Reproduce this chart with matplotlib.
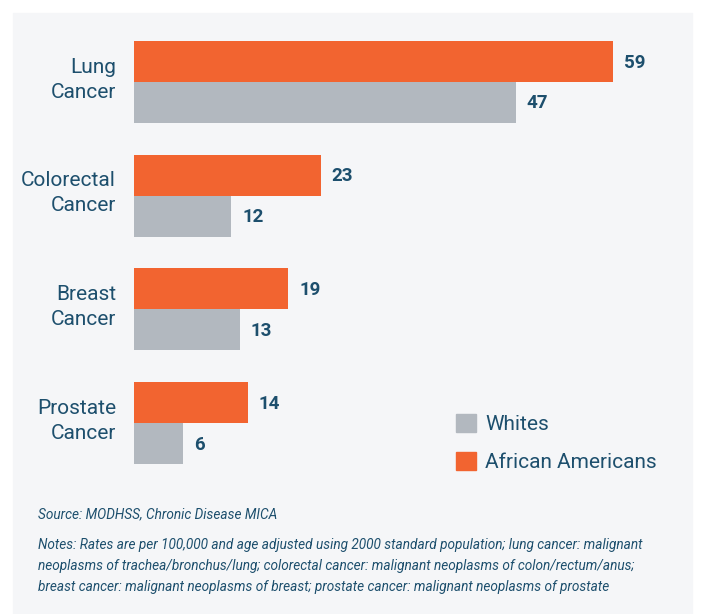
import numpy as np
import matplotlib
matplotlib.use("Agg")
import matplotlib.pyplot as plt
from matplotlib.patches import Rectangle

categories = ["Lung\nCancer", "Colorectal\nCancer", "Breast\nCancer", "Prostate\nCancer"]
african_americans = [59, 23, 19, 14]
whites = [47, 12, 13, 6]
series_names = ["Whites", "African Americans"]
source_text = "Source: MODHSS, Chronic Disease MICA"
notes_text = ("Notes: Rates are per 100,000 and age adjusted using 2000 standard population; lung cancer: malignant\n"
              "neoplasms of trachea/bronchus/lung; colorectal cancer: malignant neoplasms of colon/rectum/anus;\n"
              "breast cancer: malignant neoplasms of breast; prostate cancer: malignant neoplasms of prostate")

orange = "#f26430"
grey = "#b2b8bf"
ink = "#1d4f6d"
panel = "#f5f6f8"
font = "Roboto"

W, H = 701, 614
fig = plt.figure(figsize=(W / 100, H / 100), dpi=100)
fig.patches.append(Rectangle((13 / W, 0), (692 - 13) / W, 1 - 13 / H,
                             transform=fig.transFigure, color=panel, zorder=-5))

# axes in pixel terms: bars from x=134, bars span y=41..464
left, right = 134, 692
top, bottom = 41, 464
ax = fig.add_axes([left / W, 1 - bottom / H, (right - left) / W, (bottom - top) / H])
ax.patch.set_alpha(0)

px_per_unit = (613 - 134) / 59.0
ax.set_xlim(0, (right - left) / px_per_unit)
spacing = 114.0
bh = 41 / spacing
n = len(categories)
y = np.arange(n)
ax.set_ylim(y[-1] + bh, y[0] - bh)

ax.barh(y - bh / 2, african_americans, height=bh, color=orange, label=series_names[1])
ax.barh(y + bh / 2, whites, height=bh, color=grey, label=series_names[0])

for i in range(n):
    ax.text(african_americans[i] + 11 / px_per_unit, y[i] - bh / 2 + 0.01, str(african_americans[i]),
            va="center", ha="left", fontsize=13.5, fontweight="bold", color=ink, family=font)
    ax.text(whites[i] + 11 / px_per_unit, y[i] + bh / 2 + 0.01, str(whites[i]),
            va="center", ha="left", fontsize=13.5, fontweight="bold", color=ink, family=font)
    # category label, right-aligned left of the bars
    ax.text(-18 / px_per_unit, y[i] - 0.02, categories[i], ha="right", va="center",
            multialignment="right", fontsize=15, linespacing=1.4, color=ink, family=font,
            clip_on=False)

ax.set_yticks([])
ax.set_xticks([])
for s in ax.spines.values():
    s.set_visible(False)

# legend
handles = [Rectangle((0, 0), 1, 1, color=grey), Rectangle((0, 0), 1, 1, color=orange)]
leg = fig.legend(handles, series_names, loc="upper left", bbox_to_anchor=(437 / W, 1 - 395 / H),
                 frameon=False, handlelength=0.95, handleheight=0.95, handletextpad=0.45,
                 labelspacing=0.85, prop={"family": font, "size": 15})
for t in leg.get_texts():
    t.set_color(ink)

fig.text(38 / W, 1 - 514 / H, source_text, fontsize=9.8, style="italic", color=ink,
         family=font, va="center")
fig.text(38 / W, 1 - 538 / H, notes_text, fontsize=9.8, style="italic", color=ink,
         family=font, va="top", linespacing=1.65)

fig.savefig("out.png", dpi=100)
